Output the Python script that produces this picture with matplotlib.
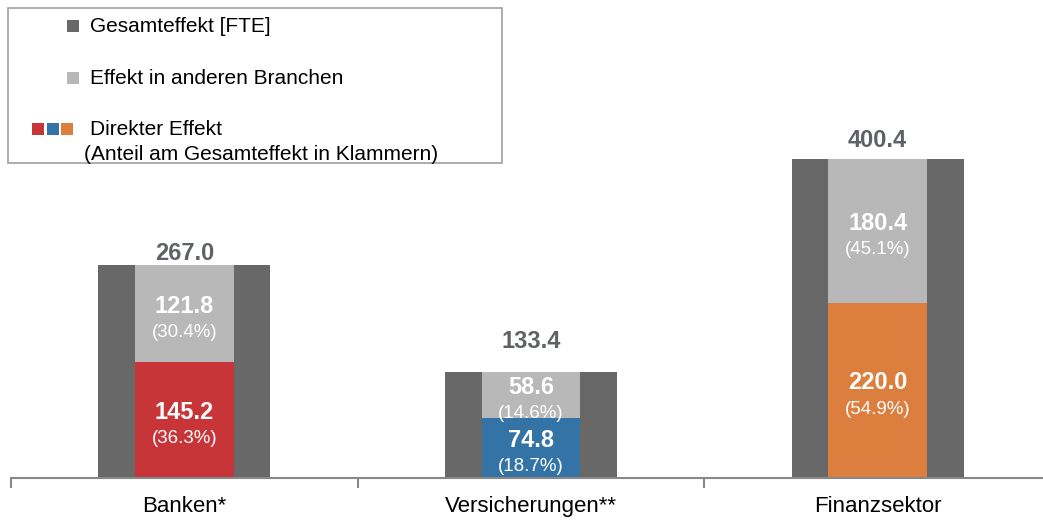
import matplotlib.pyplot as plt
from matplotlib.patches import Rectangle

plt.rcParams['font.family'] = ['Liberation Sans', 'DejaVu Sans']

# data
categories = ['Banken*', 'Versicherungen**', 'Finanzsektor']
totals = [267.0, 133.4, 400.4]
direct = [145.2, 74.8, 220.0]
indirect = [121.8, 58.6, 180.4]
pct_direct = [36.3, 18.7, 54.9]
pct_indirect = [30.4, 14.6, 45.1]

# gap (points) between bar top and total label, as placed in the original
total_label_gap = [0, 13.5, 5]

total_color = '#686868'
other_color = '#b8b8b8'
direct_colors = ['#c73538', '#3473a6', '#dc7f3e']
label_color = '#5e6266'

W, H = 1043, 525
fig = plt.figure(figsize=(W / 100, H / 100), dpi=100)
ax = fig.add_axes([11 / W, 47 / H, 1 - 11 / W, 1 - 47 / H])

x = list(range(len(categories)))
ax.bar(x, totals, width=0.496, color=total_color, zorder=1)
ax.bar(x, direct, width=0.285, color=direct_colors, zorder=2)
ax.bar(x, indirect, width=0.285, bottom=direct, color=other_color, zorder=2)

for i in x:
    ax.annotate(f'{totals[i]:.1f}', (i, totals[i]), xytext=(0, total_label_gap[i]),
                textcoords='offset points', ha='center', va='bottom',
                fontsize=17, fontweight='bold', color=label_color)
    for base, h, p in [(0, direct[i], pct_direct[i]), (direct[i], indirect[i], pct_indirect[i])]:
        c = base + h / 2
        ax.annotate(f'{h:.1f}', (i, c), xytext=(0, 5.5), textcoords='offset points',
                    ha='center', va='center', fontsize=17, fontweight='bold', color='white')
        ax.annotate(f'({p:.1f}%)', (i, c), xytext=(0, -13.5), textcoords='offset points',
                    ha='center', va='center', fontsize=13.5, color='white')

ax.set_xlim(-0.5, 2.5 - 8 / 347)
ax.set_ylim(0, 600)
for s in ['top', 'right', 'left']:
    ax.spines[s].set_visible(False)
ax.spines['bottom'].set_color('#888888')
ax.spines['bottom'].set_linewidth(1.5)
ax.set_yticks([])
ax.set_xticks(x)
ax.set_xticklabels(categories, fontsize=16, color='black')
ax.tick_params(axis='x', which='major', length=0, pad=13)
ax.set_xticks([-0.5, 0.5, 1.5], minor=True)
ax.tick_params(axis='x', which='minor', length=7, width=1.5, color='#888888', direction='out')

# legend box drawn in pixel coordinates (top-left origin)
def fx(px):
    return px / W

def fy(py):
    return 1 - py / H

fig.patches.append(Rectangle((fx(8), fy(163)), fx(494), 155 / H, transform=fig.transFigure,
                             facecolor='white', edgecolor='#a0a0a0', lw=1.2, zorder=5))

def square(px, py, color):
    fig.patches.append(Rectangle((fx(px), fy(py + 12)), 12 / W, 12 / H, transform=fig.transFigure,
                                 facecolor=color, edgecolor='none', zorder=6))

square(67, 20, total_color)
square(67, 72, other_color)
for k, c in enumerate(direct_colors):
    square(32 + k * 14.5, 123, c)

fig.text(fx(90), fy(26), 'Gesamteffekt [FTE]', fontsize=15, va='center', zorder=7)
fig.text(fx(90), fy(78), 'Effekt in anderen Branchen', fontsize=15, va='center', zorder=7)
fig.text(fx(90), fy(129), 'Direkter Effekt', fontsize=15, va='center', zorder=7)
fig.text(fx(84), fy(154), '(Anteil am Gesamteffekt in Klammern)', fontsize=15, va='center', zorder=7)

fig.savefig('out.png', dpi=100)
